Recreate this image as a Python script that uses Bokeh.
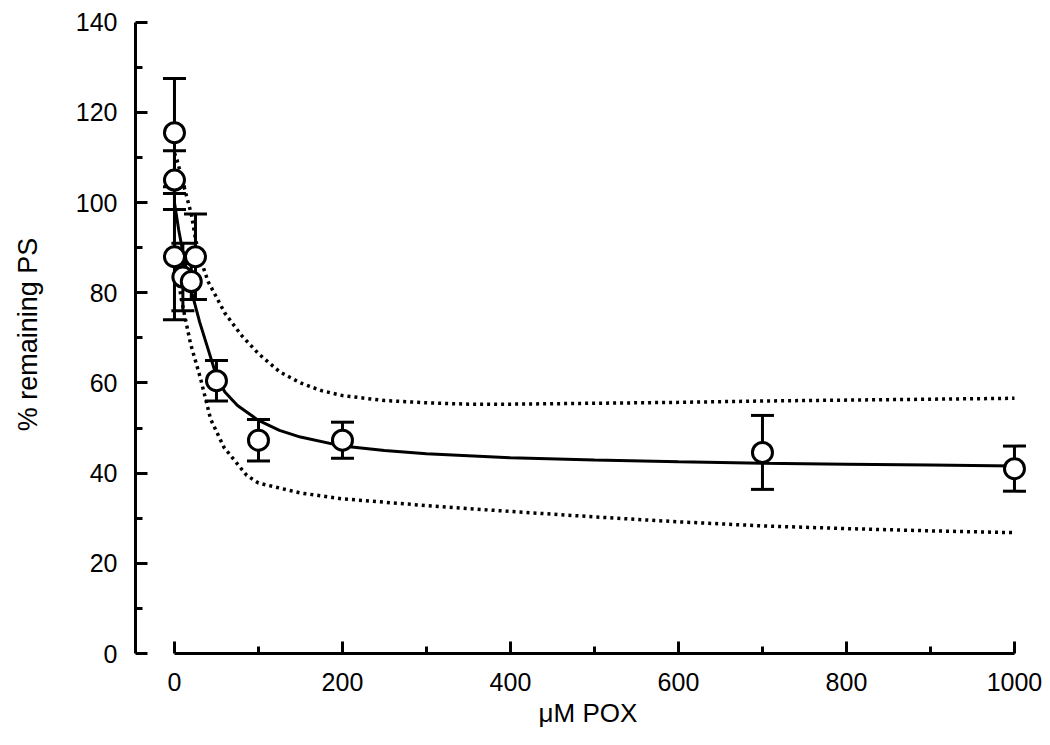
from bokeh.plotting import figure
from bokeh.models import Range1d, ColumnDataSource, Whisker, TeeHead, FixedTicker
from bokeh.embed import file_html
from bokeh.resources import INLINE

# ---- data ----
dose = [0, 0, 0, 10, 20, 25, 50, 100, 200, 700, 1000]
remaining = [115.5, 105.0, 88.0, 83.5, 82.5, 88.0, 60.5, 47.3, 47.3, 44.6, 41.0]
sem = [12.0, 6.5, 14.0, 7.5, 4.0, 9.5, 4.5, 4.6, 4.0, 8.2, 5.0]

fit_x = [0, 5, 10, 15, 20, 30, 40, 50, 60, 75, 100, 125, 150, 200, 250, 300,
         400, 500, 600, 700, 800, 900, 1000]
fit_y = [100.0, 94.0, 89.0, 84.5, 80.5, 73.5, 67.5, 61.5, 58.0, 55.0, 51.7, 49.5,
         48.0, 46.0, 45.0, 44.3, 43.4, 42.9, 42.5, 42.2, 42.0, 41.8, 41.6]

upper_x = [0, 3, 10, 20, 25, 30, 40, 60, 80, 100, 125, 150, 175, 200, 250, 300,
           350, 400, 500, 600, 700, 800, 900, 1000]
upper_y = [111.0, 109.5, 104.5, 97.5, 92.0, 88.0, 82.5, 75.5, 70.5, 66.5, 62.5, 60.0,
           58.3, 57.2, 56.1, 55.6, 55.3, 55.3, 55.5, 55.7, 56.0, 56.2, 56.4, 56.6]

lower_x = [0, 5, 11, 19, 31, 43, 59, 86, 100, 150, 200, 300, 400, 500, 600, 700,
           800, 900, 1000]
lower_y = [88.0, 82.0, 76.0, 68.8, 61.0, 52.0, 45.7, 39.5, 37.8, 35.6, 34.3, 32.8,
           31.5, 30.3, 29.2, 28.3, 27.7, 27.2, 26.8]

x_major = [0, 200, 400, 600, 800, 1000]
x_minor = [100, 300, 500, 700, 900]
y_major = [0, 20, 40, 60, 80, 100, 120, 140]
y_minor = [10, 30, 50, 70, 90, 110, 130]

FONT = "Liberation Sans"

p = figure(width=1042, height=737, output_backend="svg", toolbar_location=None,
           x_range=Range1d(-46.4, 1031), y_range=Range1d(0, 141.5))
p.min_border_left = 135
p.min_border_right = 2
p.min_border_top = 15
p.min_border_bottom = 84
p.outline_line_color = None
p.grid.visible = False
p.background_fill_color = "white"
p.border_fill_color = "white"

# curves
p.line(upper_x, upper_y, line_color="black", line_width=3.5, line_dash="3 4")
p.line(lower_x, lower_y, line_color="black", line_width=3.5, line_dash="3 4")
p.line(fit_x, fit_y, line_color="black", line_width=3)

# error bars
src = ColumnDataSource(dict(
    x=dose, y=remaining,
    upper=[v + e for v, e in zip(remaining, sem)],
    lower=[v - e for v, e in zip(remaining, sem)],
))
wh = Whisker(base="x", upper="upper", lower="lower", source=src,
             line_color="black", line_width=3,
             upper_head=TeeHead(size=23, line_width=3, line_color="black"),
             lower_head=TeeHead(size=23, line_width=3, line_color="black"))
p.add_layout(wh)

p.scatter("x", "y", source=src, marker="circle", size=20,
          fill_color="white", line_color="black", line_width=3)

# axes
p.xaxis.ticker = FixedTicker(ticks=x_major, minor_ticks=x_minor)
p.yaxis.ticker = FixedTicker(ticks=y_major, minor_ticks=y_minor)
p.xaxis.bounds = (0, 1000)
p.yaxis.bounds = (0, 140)
for ax in (p.xaxis[0], p.yaxis[0]):
    ax.axis_line_width = 3
    ax.axis_line_color = "black"
    ax.major_tick_line_width = 3
    ax.minor_tick_line_width = 3
    ax.major_tick_line_color = "black"
    ax.minor_tick_line_color = "black"
    ax.major_tick_in = 12
    ax.major_tick_out = 0
    ax.minor_tick_in = 7
    ax.minor_tick_out = 0
    ax.major_label_text_font = FONT
    ax.major_label_text_font_size = "25px"
    ax.major_label_text_color = "black"
    ax.axis_label_text_font = FONT
    ax.axis_label_text_font_style = "normal"
    ax.axis_label_text_color = "black"

p.xaxis.axis_label_text_font_size = "26px"
p.yaxis.axis_label_text_font_size = "27px"
p.xaxis.axis_label = "μM POX"
p.yaxis.axis_label = "% remaining PS"
p.xaxis.major_label_standoff = 19
p.yaxis.major_label_standoff = 18
p.xaxis.axis_label_standoff = 4
p.yaxis.axis_label_standoff = 30

open("out.html", "w").write(file_html(p, INLINE))
